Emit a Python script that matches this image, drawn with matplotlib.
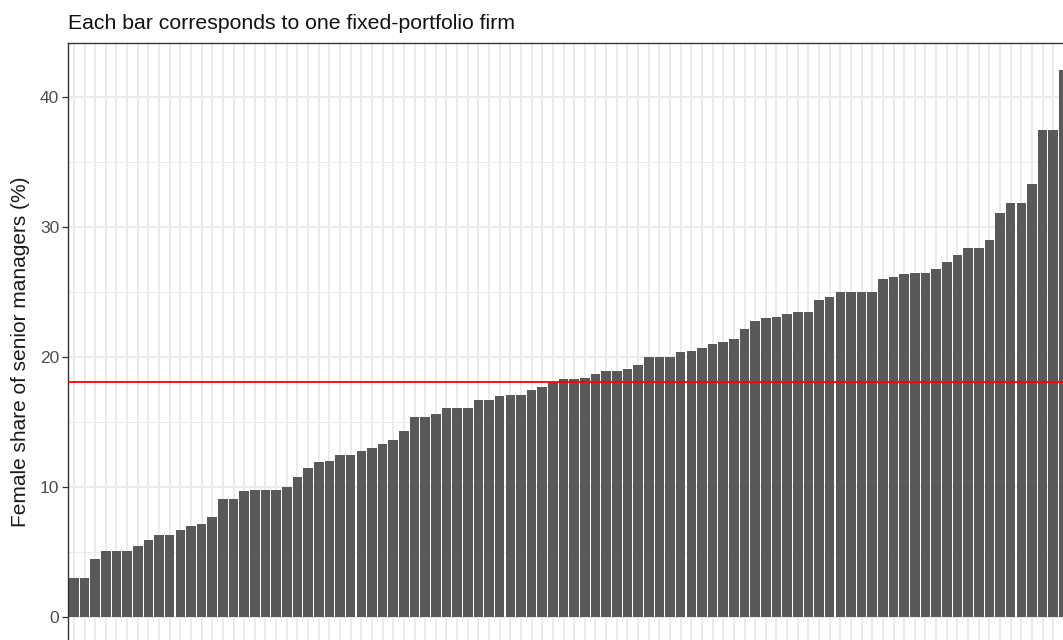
import numpy as np
import matplotlib
matplotlib.use("Agg")
import matplotlib.pyplot as plt
from matplotlib.ticker import MultipleLocator, FixedLocator

plt.rcParams["font.family"] = ["Liberation Sans", "DejaVu Sans"]

# female share of senior managers (%), one value per fixed-portfolio firm, sorted
shares = [
    3.0, 3.0, 4.5, 5.1, 5.1, 5.1, 5.5, 5.9, 6.3, 6.3,
    6.7, 7.0, 7.2, 7.7, 9.1, 9.1, 9.7, 9.8, 9.8, 9.8,
    10.0, 10.8, 11.5, 11.9, 12.0, 12.5, 12.5, 12.8, 13.0, 13.3,
    13.6, 14.3, 15.4, 15.4, 15.6, 16.1, 16.1, 16.1, 16.7, 16.7,
    17.0, 17.1, 17.1, 17.5, 17.7, 18.1, 18.3, 18.3, 18.4, 18.7,
    18.9, 18.9, 19.1, 19.4, 20.0, 20.0, 20.0, 20.4, 20.5, 20.7,
    21.0, 21.2, 21.4, 22.2, 22.8, 23.0, 23.1, 23.3, 23.5, 23.5,
    24.4, 24.6, 25.0, 25.0, 25.0, 25.0, 26.0, 26.2, 26.4, 26.5,
    26.5, 26.8, 27.3, 27.9, 28.4, 28.4, 29.0, 31.1, 31.9, 31.9,
    33.3, 37.5, 37.5, 42.1,
]
reference_line = 18.1
y_ticks = [0, 10, 20, 30, 40]

title = "Each bar corresponds to one fixed-portfolio firm"
y_label = "Female share of senior managers (%)"

W, H = 1063, 640
fig = plt.figure(figsize=(W / 100, H / 100), dpi=100)

# panel geometry in pixels (panel runs past the right and bottom edges)
left_px, top_px, bottom_px = 67.5, 42.7, 644.4
ax = fig.add_axes([left_px / W, 1 - bottom_px / H,
                   1 - left_px / W, (bottom_px - top_px) / H])

x = np.arange(1, len(shares) + 1)
ax.bar(x, shares, width=0.9, color="#595959", linewidth=0, zorder=2)
ax.axhline(reference_line, color="#FF0000", lw=1.3, zorder=3)

ymax = max(shares)
ax.set_ylim(-0.05 * ymax, ymax * 1.05)
unit_px = 10.645
ax.set_xlim(0.4, 0.4 + (W - left_px) / unit_px)

ax.yaxis.set_major_locator(FixedLocator(y_ticks))
ax.yaxis.set_minor_locator(MultipleLocator(5))
ax.xaxis.set_major_locator(FixedLocator(x))
ax.set_xticklabels([])

ax.grid(which="major", axis="both", color="#EBEBEB", lw=1.4, zorder=0)
ax.grid(which="minor", axis="y", color="#EBEBEB", lw=0.7, zorder=0)
ax.set_axisbelow(True)

ax.tick_params(axis="y", which="major", length=4, width=0.9, color="#333333",
               labelsize=12.5, labelcolor="#4D4D4D", pad=2)
ax.tick_params(axis="y", which="minor", length=0)
ax.tick_params(axis="x", length=0)

for side in ("left", "top", "bottom"):
    ax.spines[side].set_color("#333333")
    ax.spines[side].set_linewidth(1.0)
ax.spines["right"].set_visible(False)

fig.text(68 / W, 1 - 29 / H, title, fontsize=15.3, color="#111111",
         ha="left", va="baseline")
fig.text(21 / W, 1 - 352 / H, y_label, fontsize=15,
         color="#1A1A1A", rotation=90, ha="center", va="center")

fig.savefig("out.png", dpi=100)
